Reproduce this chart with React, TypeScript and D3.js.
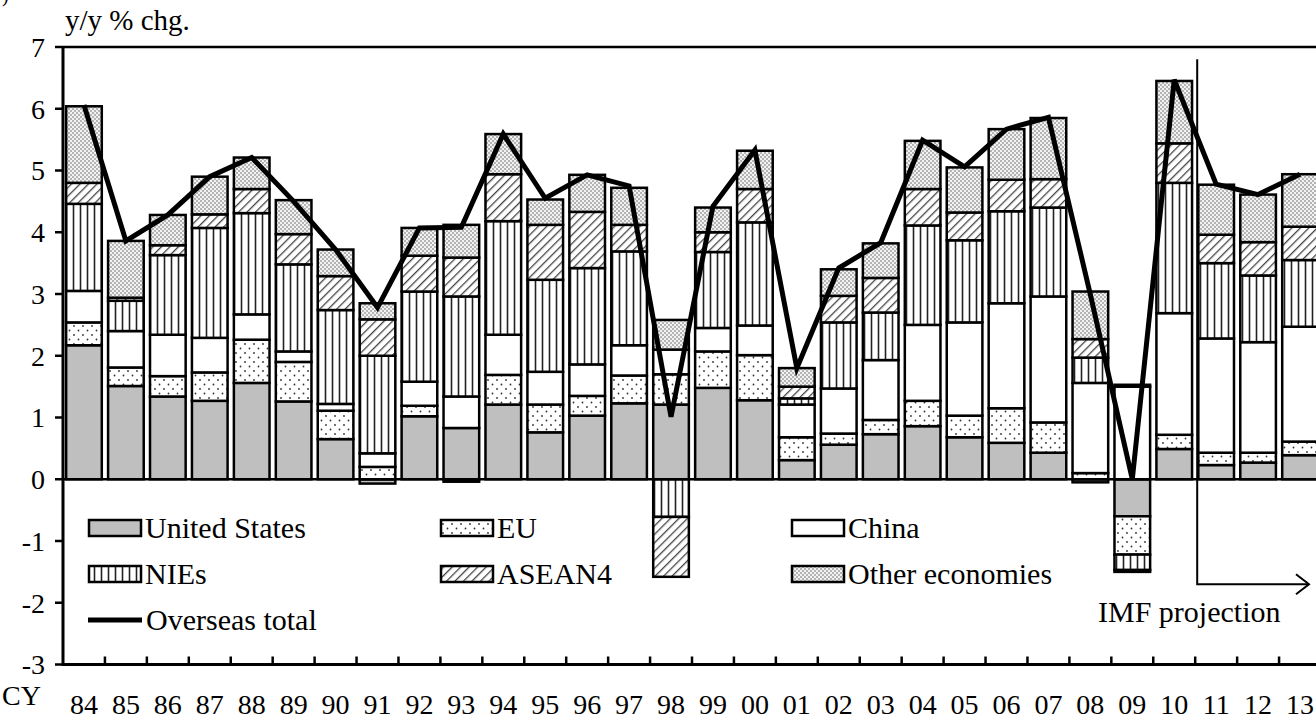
import React from "react";
import * as d3 from "d3";

const years = ["84","85","86","87","88","89","90","91","92","93","94","95","96","97","98","99","00","01","02","03","04","05","06","07","08","09","10","11","12","13"];
const unitedStates = [2.17,1.51,1.34,1.27,1.56,1.26,0.65,-0.07,1.02,0.83,1.21,0.76,1.03,1.23,1.21,1.48,1.28,0.31,0.56,0.73,0.86,0.68,0.59,0.43,-0.05,-0.60,0.49,0.23,0.27,0.39];
const eu = [0.37,0.30,0.33,0.46,0.70,0.64,0.46,0.20,0.17,-0.04,0.48,0.45,0.32,0.45,0.49,0.59,0.73,0.37,0.18,0.23,0.41,0.35,0.56,0.49,0.10,-0.62,0.23,0.20,0.16,0.22];
const china = [0.51,0.59,0.67,0.56,0.41,0.17,0.11,0.22,0.39,0.51,0.65,0.53,0.51,0.49,0.40,0.38,0.48,0.53,0.73,0.97,1.23,1.51,1.70,2.04,1.46,1.50,1.97,1.85,1.79,1.86];
const nies = [1.41,0.49,1.29,1.78,1.64,1.41,1.52,1.58,1.46,1.62,1.84,1.49,1.56,1.52,-0.61,1.23,1.67,0.10,1.07,0.77,1.61,1.33,1.49,1.44,0.41,-0.25,2.11,1.22,1.08,1.08];
const asean4 = [0.34,0.05,0.16,0.22,0.39,0.49,0.55,0.59,0.58,0.63,0.76,0.89,0.91,0.43,-0.97,0.32,0.54,0.19,0.43,0.56,0.59,0.45,0.51,0.46,0.30,-0.03,0.64,0.46,0.54,0.54];
const otherEconomies = [1.24,0.92,0.49,0.61,0.51,0.55,0.43,0.26,0.45,0.53,0.65,0.41,0.60,0.60,0.48,0.40,0.62,0.30,0.43,0.56,0.78,0.73,0.82,0.99,0.77,0.03,1.01,0.81,0.77,0.85];
const overseasTotal = [6.06,3.86,4.28,4.90,5.21,4.50,3.72,2.78,4.07,4.08,5.59,4.55,4.93,4.75,1.01,4.42,5.33,1.80,3.42,3.83,5.49,5.06,5.67,5.86,2.99,0.00,6.47,4.78,4.61,4.94];
const yTicks = [-3,-2,-1,0,1,2,3,4,5,6,7];

const seriesKeys = ["United States","EU","China","NIEs","ASEAN4","Other economies"];
const seriesValues = [unitedStates, eu, china, nies, asean4, otherEconomies];
const fills: Record<string,string> = {
  "United States": "#bfbfbf",
  "EU": "url(#patEU)",
  "China": "#ffffff",
  "NIEs": "url(#patNIEs)",
  "ASEAN4": "url(#patASEAN)",
  "Other economies": "url(#patOther)",
};

const FONT = "Liberation Serif, Times New Roman, serif";

export default function App() {
  const W = 1316, H = 718;
  const left = 63, right = 1321, top = 47, bottom = 664.5;
  const x = d3.scaleBand<string>().domain(years).range([left, right]).paddingInner(0.15).paddingOuter(0.075);
  const y = d3.scaleLinear().domain([-3, 7]).range([bottom, top]);
  const step = x.step();
  const bw = x.bandwidth();
  const gap = (step - bw) / 2;

  const table = years.map((yr, i) => {
    const row: any = { year: yr };
    seriesKeys.forEach((k, j) => { row[k] = seriesValues[j][i]; });
    return row;
  });
  const stacked = d3.stack<any>().keys(seriesKeys).offset(d3.stackOffsetDiverging)(table);

  const line = d3.line<number>()
    .x((_, i) => (x(years[i]) as number) + bw / 2)
    .y((d) => y(d));

  const projX = (x("11") as number) - gap + 2;
  const arrowY = y(-1.7);
  const arrowTip = 1309;

  const legendItems = [
    { key: "United States", lx: 89, ly: 528 },
    { key: "EU", lx: 441, ly: 528 },
    { key: "China", lx: 792, ly: 528 },
    { key: "NIEs", lx: 89, ly: 574 },
    { key: "ASEAN4", lx: 441, ly: 574 },
    { key: "Other economies", lx: 792, ly: 574 },
  ];

  const ts = { fontFamily: FONT } as React.CSSProperties;

  return (
    <svg width={W} height={H} style={{ position: "absolute", left: 0, top: 0, background: "#fff", fontFamily: FONT }}>
      <defs>
        <pattern id="patEU" width="9" height="9" patternUnits="userSpaceOnUse">
          <rect width="9" height="9" fill="#fff" />
          <circle cx="2" cy="2" r="0.9" fill="#333" />
          <circle cx="6.5" cy="6.5" r="0.9" fill="#333" />
        </pattern>
        <pattern id="patNIEs" width="7" height="7" patternUnits="userSpaceOnUse">
          <rect width="7" height="7" fill="#fff" />
          <line x1="3.5" y1="0" x2="3.5" y2="7" stroke="#222" strokeWidth="1.6" />
        </pattern>
        <pattern id="patASEAN" width="6" height="6" patternUnits="userSpaceOnUse" patternTransform="rotate(45)">
          <rect width="6" height="6" fill="#fff" />
          <line x1="0" y1="0" x2="0" y2="6" stroke="#444" strokeWidth="2.6" />
        </pattern>
        <pattern id="patOther" width="4" height="4" patternUnits="userSpaceOnUse">
          <rect width="4" height="4" fill="#f2f2f2" />
          <circle cx="1" cy="1" r="0.8" fill="#666" />
          <circle cx="3" cy="3" r="0.8" fill="#666" />
        </pattern>
      </defs>

      <text x={2} y={2} fontSize={20} style={ts}>)</text>

      {stacked.map((s) => (
        <g key={s.key}>
          {s.map((d, i) => {
            if (Math.abs(d[1] - d[0]) < 1e-9) return null;
            const y0 = y(Math.max(d[0], d[1]));
            const y1 = y(Math.min(d[0], d[1]));
            return (
              <rect key={i} x={x(years[i])} y={y0} width={bw} height={Math.max(0.5, y1 - y0)}
                fill={fills[s.key]} stroke="#000" strokeWidth={2.5} />
            );
          })}
        </g>
      ))}

      <line x1={left} x2={right} y1={top} y2={top} stroke="#000" strokeWidth={2.5} />
      <line x1={left} x2={right} y1={y(0)} y2={y(0)} stroke="#000" strokeWidth={2.5} />
      <line x1={left} x2={right} y1={bottom} y2={bottom} stroke="#000" strokeWidth={3} />
      <line x1={left} x2={left} y1={top - 1} y2={bottom + 1.5} stroke="#000" strokeWidth={3} />
      {yTicks.map((t) => (
        <g key={t}>
          <line x1={left - 8} x2={left} y1={y(t)} y2={y(t)} stroke="#000" strokeWidth={2.5} />
          <text x={45} y={y(t)} dy="0.35em" textAnchor="end" fontSize={28} style={ts}>{t}</text>
        </g>
      ))}
      {years.map((yr) => (
        <g key={yr}>
          <line x1={(x(yr) as number) + bw + gap} x2={(x(yr) as number) + bw + gap} y1={bottom} y2={bottom - 8} stroke="#000" strokeWidth={2.5} />
          <text x={(x(yr) as number) + bw / 2} y={714} textAnchor="middle" fontSize={28} style={ts}>{yr}</text>
        </g>
      ))}
      <text x={2} y={705} fontSize={28} style={ts}>CY</text>
      <text x={65} y={30} fontSize={29} style={ts}>y/y % chg.</text>

      <path d={line(overseasTotal) || ""} fill="none" stroke="#000" strokeWidth={5} strokeLinejoin="miter" />

      <path d={`M${projX},${y(6.8)} V${arrowY} H${arrowTip}`} fill="none" stroke="#000" strokeWidth={2} />
      <path d={`M${arrowTip - 13},${arrowY - 10} L${arrowTip},${arrowY} L${arrowTip - 13},${arrowY + 10}`} fill="none" stroke="#000" strokeWidth={2} />
      <text x={1098} y={622} fontSize={30} style={ts}>IMF projection</text>

      {legendItems.map((it) => (
        <g key={it.key}>
          <rect x={it.lx} y={it.ly - 8} width={52} height={16} fill={fills[it.key]} stroke="#000" strokeWidth={2.5} />
          <text x={it.lx + 56} y={it.ly} dy="0.33em" fontSize={30} style={ts}>{it.key}</text>
        </g>
      ))}
      <line x1={88} x2={142} y1={620} y2={620} stroke="#000" strokeWidth={5} />
      <text x={146} y={620} dy="0.33em" fontSize={30} style={ts}>Overseas total</text>
    </svg>
  );
}
